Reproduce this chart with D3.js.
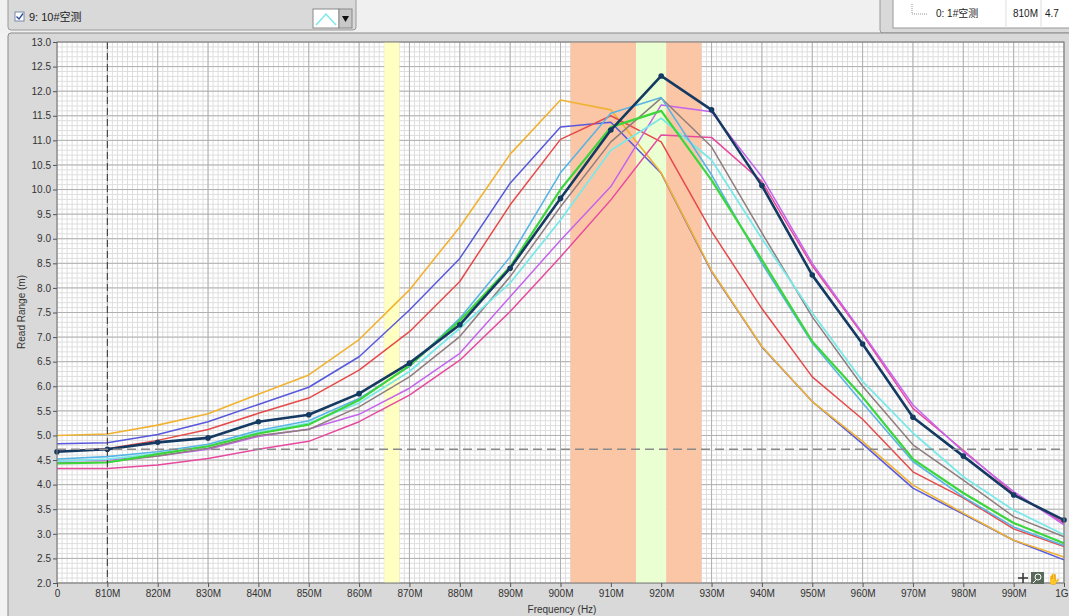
<!DOCTYPE html>
<html><head><meta charset="utf-8">
<script src="https://cdn.jsdelivr.net/npm/d3@7/dist/d3.min.js"></script>
<style>
html,body{margin:0;padding:0;background:#f2f2f2;}
svg{display:block;font-family:"Liberation Sans",Arial,"Noto Sans CJK SC",sans-serif;}
</style></head>
<body>
<svg id="c" width="1069" height="616"></svg>
<script>
const freqs = [800,810,820,830,840,850,860,870,880,890,900,910,920,930,940,950,960,970,980,990,1000];
const yTicks = [2.0,2.5,3.0,3.5,4.0,4.5,5.0,5.5,6.0,6.5,7.0,7.5,8.0,8.5,9.0,9.5,10.0,10.5,11.0,11.5,12.0,12.5,13.0];
const xTicks = [800,810,820,830,840,850,860,870,880,890,900,910,920,930,940,950,960,970,980,990,1000];
const seriesNames = ["1#空测","2#","3#","4#","5#","6#","7#","8#","9#","10#空测"];
const sBlue     = [4.83,4.85,5.02,5.28,5.63,5.98,6.60,7.55,8.60,10.13,11.27,11.37,10.33,8.33,6.80,5.69,4.83,3.93,3.40,2.87,2.47];
const sOrange   = [5.00,5.03,5.21,5.44,5.84,6.23,6.95,7.96,9.24,10.72,11.82,11.62,10.34,8.35,6.81,5.69,4.88,3.99,3.42,2.87,2.53];
const sRed      = [4.68,4.73,4.90,5.12,5.45,5.76,6.33,7.11,8.13,9.69,11.02,11.50,10.97,9.15,7.58,6.19,5.33,4.26,3.73,3.10,2.74];
const sPink     = [4.33,4.33,4.40,4.53,4.72,4.88,5.28,5.82,6.53,7.52,8.63,9.79,11.11,11.06,10.16,8.45,7.05,5.55,4.70,3.82,3.22];
const sViolet   = [4.48,4.50,4.58,4.72,4.98,5.13,5.43,5.96,6.67,7.82,8.97,10.06,11.72,11.58,10.26,8.50,7.08,5.62,4.67,3.86,3.18];
const sGray     = [4.44,4.46,4.58,4.74,5.00,5.12,5.58,6.19,7.01,8.23,9.65,10.97,11.86,10.87,9.12,7.41,6.00,4.81,4.09,3.35,2.94];
const sCyan     = [4.48,4.52,4.63,4.78,5.06,5.25,5.66,6.30,7.18,8.10,9.38,10.80,11.45,10.60,9.00,7.49,6.10,5.05,4.16,3.48,2.98];
const sLightBlue= [4.52,4.57,4.67,4.82,5.10,5.30,5.75,6.40,7.38,8.63,10.34,11.55,11.87,10.30,8.50,6.88,5.66,4.47,3.75,3.14,2.76];
const sGreen    = [4.43,4.45,4.62,4.78,5.04,5.22,5.72,6.42,7.33,8.43,10.00,11.27,11.60,10.19,8.57,6.91,5.78,4.52,3.83,3.22,2.81];
const sNavy     = [4.67,4.72,4.86,4.95,5.28,5.42,5.85,6.47,7.25,8.40,9.82,11.21,12.31,11.62,10.08,8.26,6.86,5.37,4.58,3.79,3.28];
const bands = [[865,868,"#ffffc2"],[902,915,"#fbc6a6"],[915,921,"#eaffd2"],[921,928,"#fbc6a6"]];
const cursorFreq = 810, cursorVal = 4.72;

const series = [
  {v:sBlue, c:"#5858dc", w:1.5},
  {v:sOrange, c:"#f0b232", w:1.6},
  {v:sRed, c:"#e64a4a", w:1.5},
  {v:sPink, c:"#e64a9e", w:1.5},
  {v:sViolet, c:"#c464ec", w:1.5},
  {v:sGray, c:"#8e7e7e", w:1.5},
  {v:sCyan, c:"#7ae8e8", w:1.8},
  {v:sLightBlue, c:"#58b4e4", w:1.6},
  {v:sGreen, c:"#3cd63c", w:2.2},
  {v:sNavy, c:"#153a62", w:2.6, m:true}
];

const svg = d3.select("#c");
const L=57, R=1064, T=42, B=583;
const x = d3.scaleLinear().domain([800,1000]).range([L,R]);
const y = d3.scaleLinear().domain([2,13]).range([B,T]);

// top-left legend panel
svg.append("rect").attr("x",0).attr("y",0).attr("width",1069).attr("height",33).attr("fill","#f0f0f0");
svg.append("rect").attr("x",8).attr("y",-4).attr("width",348).attr("height",34).attr("rx",3)
  .attr("fill","#d9d9d9").attr("stroke","#9a9a9a");
svg.append("rect").attr("x",15).attr("y",12).attr("width",9).attr("height",9).attr("fill","#fff").attr("stroke","#7a8aa8");
svg.append("path").attr("d","M16.5,16.5 L19,19 L23,13.5").attr("fill","none").attr("stroke","#2a4a9a").attr("stroke-width",1.3);
svg.append("text").attr("x",29).attr("y",21).attr("font-size",11).attr("fill","#222").text("9: 10#空测");
svg.append("rect").attr("x",313).attr("y",9).attr("width",26).attr("height",19).attr("fill","#fff").attr("stroke","#8a8a8a");
svg.append("path").attr("d","M316,25 L326,14 L336,25").attr("fill","none").attr("stroke","#7ae8e8").attr("stroke-width",1.5);
svg.append("rect").attr("x",339).attr("y",9).attr("width",13).attr("height",19).attr("fill","#c8c8c8").attr("stroke","#8a8a8a");
svg.append("path").attr("d","M342,16 L349,16 L345.5,22 Z").attr("fill","#111");

// top-right legend panel
svg.append("rect").attr("x",880).attr("y",-4).attr("width",200).attr("height",37).attr("rx",3).attr("fill","#d9d9d9").attr("stroke","#9a9a9a");
svg.append("rect").attr("x",893).attr("y",-4).attr("width",180).attr("height",32).attr("fill","#fff").attr("stroke","#9a9a9a");
svg.append("path").attr("d","M912,4 L912,14 L928,14").attr("fill","none").attr("stroke","#999").attr("stroke-dasharray","1,1");
svg.append("text").attr("x",936).attr("y",17).attr("font-size",10).attr("fill","#222").text("0: 1#空测");
svg.append("line").attr("x1",1006).attr("x2",1006).attr("y1",0).attr("y2",28).attr("stroke","#ddd");
svg.append("text").attr("x",1013).attr("y",17).attr("font-size",10).attr("fill","#222").text("810M");
svg.append("line").attr("x1",1041).attr("x2",1041).attr("y1",0).attr("y2",28).attr("stroke","#ddd");
svg.append("text").attr("x",1045).attr("y",17).attr("font-size",10).attr("fill","#222").text("4.7");

// graph panel
svg.append("rect").attr("x",8).attr("y",33).attr("width",1070).attr("height",590).attr("rx",3)
  .attr("fill","#d9d9d9").attr("stroke","#8a8a8a");
svg.append("rect").attr("x",L).attr("y",T).attr("width",R-L).attr("height",B-T).attr("fill","#fff");

// grid
const g = svg.append("g");
const minorX = d3.range(800,1001,1), minorY = d3.range(20,131,1).map(d=>d/10);
g.selectAll(".mx").data(minorX).join("line").attr("x1",d=>x(d)).attr("x2",d=>x(d)).attr("y1",T).attr("y2",B)
  .attr("stroke","#dedede").attr("stroke-width",1);
g.selectAll(".my").data(minorY).join("line").attr("y1",d=>y(d)).attr("y2",d=>y(d)).attr("x1",L).attr("x2",R)
  .attr("stroke","#dedede").attr("stroke-width",1);
g.selectAll(".MX").data(xTicks).join("line").attr("x1",d=>x(d)).attr("x2",d=>x(d)).attr("y1",T).attr("y2",B).attr("stroke","#b0b0b0");
g.selectAll(".MY").data(yTicks).join("line").attr("y1",d=>y(d)).attr("y2",d=>y(d)).attr("x1",L).attr("x2",R).attr("stroke","#b0b0b0");

// bands
svg.selectAll(".band").data(bands).join("rect").attr("x",d=>x(d[0])).attr("width",d=>x(d[1])-x(d[0]))
  .attr("y",T).attr("height",B-T).attr("fill",d=>d[2]);

// lines
const line = d3.line().x((d,i)=>x(freqs[i])).y(d=>y(d));
const lg = svg.append("g").attr("fill","none").attr("stroke-linejoin","round");
series.forEach(s=>{
  lg.append("path").attr("d",line(s.v)).attr("stroke",s.c).attr("stroke-width",s.w);
  if(s.m){
    svg.append("g").selectAll("circle").data(s.v).join("circle")
      .attr("cx",(d,i)=>x(freqs[i])).attr("cy",d=>y(d)).attr("r",2.8).attr("fill",s.c);
  }
});

// cursor
svg.append("line").attr("x1",x(cursorFreq)).attr("x2",x(cursorFreq)).attr("y1",T).attr("y2",B)
  .attr("stroke","#333").attr("stroke-dasharray","7,4").attr("stroke-width",1);
svg.append("line").attr("x1",L).attr("x2",R).attr("y1",y(cursorVal)).attr("y2",y(cursorVal))
  .attr("stroke","#8a8a8a").attr("stroke-dasharray","9,5").attr("stroke-width",1.6);

// plot border
svg.append("rect").attr("x",L).attr("y",T).attr("width",R-L).attr("height",B-T).attr("fill","none").attr("stroke","#7a7a7a");

// axes
const ya = svg.append("g").attr("transform",`translate(${L},0)`)
  .call(d3.axisLeft(y).tickValues(yTicks).tickFormat(d3.format(".1f")).tickSize(4).tickPadding(2));
const xa = svg.append("g").attr("transform",`translate(0,${B})`)
  .call(d3.axisBottom(x).tickValues(xTicks).tickFormat(d=>d===800?"0":(d===1000?"1G":d+"M")).tickSize(4).tickPadding(3));
[ya,xa].forEach(a=>{
  a.select(".domain").remove();
  a.selectAll("line").attr("stroke","#555");
  a.selectAll("text").attr("font-size",10).attr("fill","#333").attr("font-family","'Liberation Sans',Arial,sans-serif");
});
xa.selectAll(".tick").filter(d=>d===1000).select("text").attr("text-anchor","end").attr("dx",4);

svg.append("text").attr("transform","translate(25,312) rotate(-90)").attr("text-anchor","middle")
  .attr("font-size",10).attr("fill","#333").text("Read Range (m)");
svg.append("text").attr("x",562).attr("y",613).attr("text-anchor","middle")
  .attr("font-size",10).attr("fill","#333").text("Frequency (Hz)");

// toolbar icons
const tb = svg.append("g");
tb.append("path").attr("d","M1023,573 L1023,583 M1018,578 L1028,578").attr("stroke","#333").attr("stroke-width",1.5);
tb.append("rect").attr("x",1031).attr("y",572).attr("width",13).attr("height",12).attr("fill","#5a6a5a");
tb.append("circle").attr("cx",1038).attr("cy",577).attr("r",3).attr("fill","none").attr("stroke","#fff");
tb.append("line").attr("x1",1036).attr("y1",580).attr("x2",1033).attr("y2",583).attr("stroke","#fff");
tb.append("text").attr("x",1047).attr("y",583).attr("font-size",11).attr("fill","#444").text("✋");
</script>
</body></html>
